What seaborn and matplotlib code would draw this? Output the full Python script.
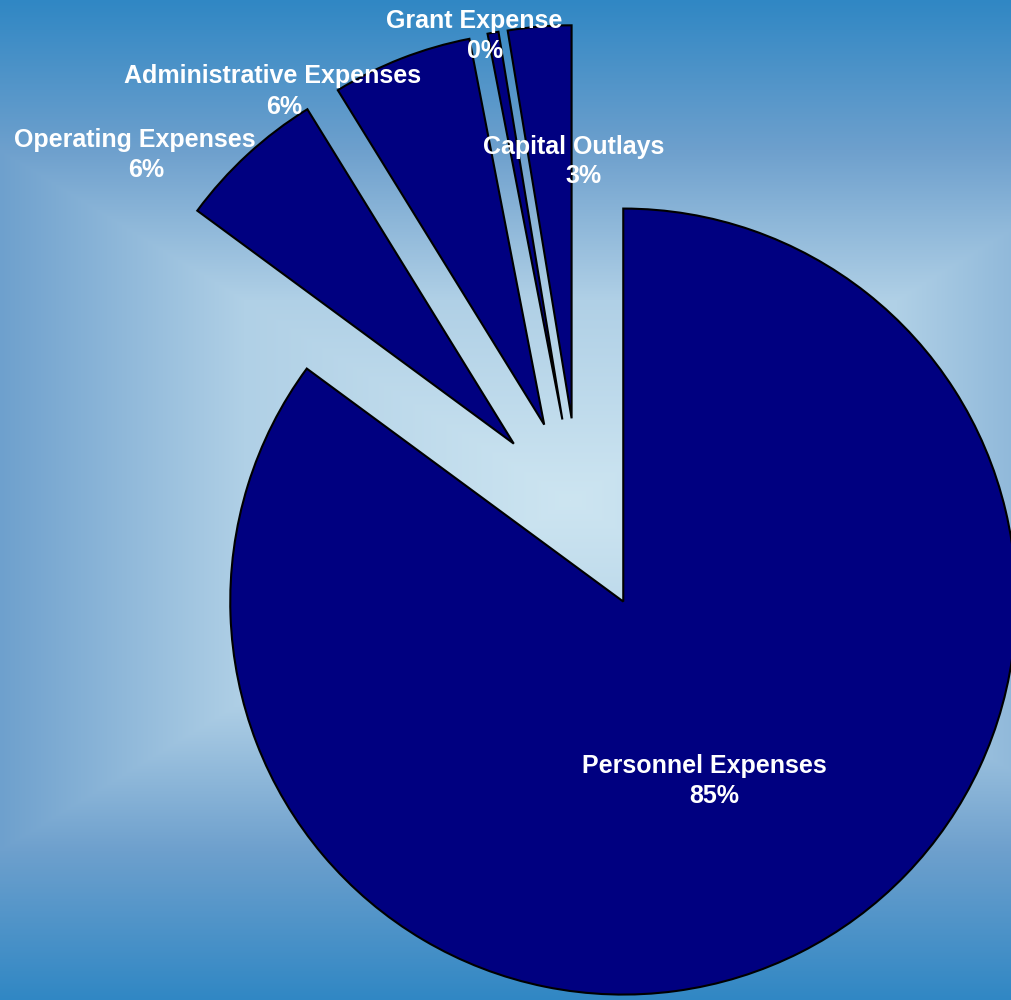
import numpy as np
import matplotlib
matplotlib.use("Agg")
import matplotlib.pyplot as plt
import seaborn as sns

# ---- data ----
categories = ["Personnel Expenses", "Operating Expenses", "Administrative Expenses",
              "Grant Expense", "Capital Outlays"]
values = [85.1, 6.1, 5.75, 0.45, 2.6]
pct_labels = ["85%", "6%", "6%", "0%", "3%"]

# ---- layout (pixel positions of label centres/baselines) ----
W, H = 1012, 1000
name_pos = [(704, 773), (135, 147), (273, 83), (474, 28), (574, 154)]
pct_pos = [(714, 803), (146, 177), (284, 114), (485, 58), (584, 183)]

sns.set_theme(style="white")
plt.rcParams["font.family"] = ["Liberation Sans", "DejaVu Sans"]

fig = plt.figure(figsize=(W / 100, H / 100), dpi=100)

# background rectangular gradient
bg = fig.add_axes([0, 0, 1, 1])
yy, xx = np.mgrid[0:H, 0:W]
t = np.maximum(np.abs(xx - 570) / 815.0, np.abs(yy - 500) / 500.0)
t = np.clip(t, 0, 1)
stops_t = [0.0, 0.4, 0.7, 1.0]
stops_c = np.array([[205, 229, 241], [176, 208, 230], [110, 160, 205], [48, 135, 196]]) / 255.0
img = np.zeros((H, W, 3))
for k in range(3):
    img[..., k] = np.interp(t, stops_t, stops_c[:, k])
bg.imshow(img, extent=[0, W, H, 0], aspect="auto", interpolation="bilinear")
bg.set_xlim(0, W)
bg.set_ylim(H, 0)
bg.axis("off")

# pie
ax = fig.add_axes([0, 0, 1, 1])
ax.patch.set_alpha(0)
R_px = 393.0
cx_px, cy_px = 579.5, 515.0
explode = [97.0 / R_px] * len(values)
ax.pie(values, explode=explode, startangle=90, counterclock=False,
       colors=["#000080"] * len(values),
       wedgeprops=dict(edgecolor="black", linewidth=1.5))
ax.set_aspect("auto")
ax.set_xlim(-cx_px / R_px, (W - cx_px) / R_px)
ax.set_ylim(-(H - cy_px) / R_px, cy_px / R_px)
ax.axis("off")

# labels
def to_fig(p):
    return p[0] / W, 1 - p[1] / H

for name, pct, npos, ppos in zip(categories, pct_labels, name_pos, pct_pos):
    x, y = to_fig(npos)
    fig.text(x, y, name, ha="center", va="baseline", color="white",
             fontsize=18, fontweight="bold")
    x, y = to_fig(ppos)
    fig.text(x, y, pct, ha="center", va="baseline", color="white",
             fontsize=18, fontweight="bold")

fig.savefig("out.png", dpi=100)
